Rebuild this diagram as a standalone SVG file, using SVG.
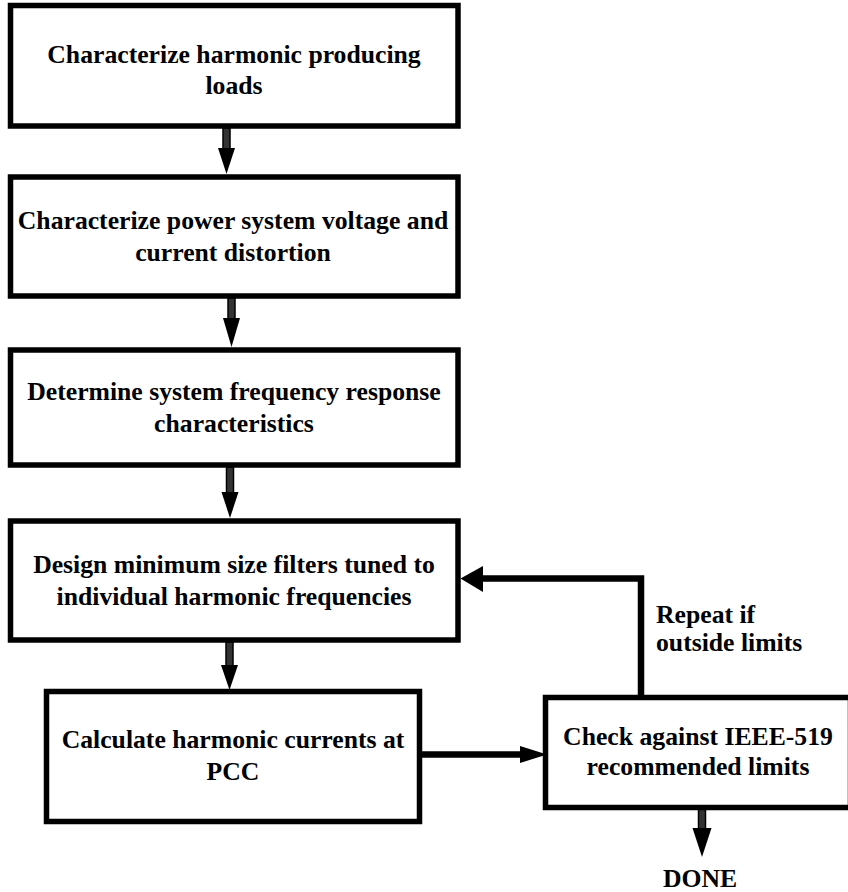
<svg xmlns="http://www.w3.org/2000/svg" width="848" height="892" viewBox="0 0 848 892">
<style>
.box{fill:#fff;stroke:#000;stroke-width:5.5}
.t{font-family:"Liberation Serif","Times New Roman",serif;font-weight:bold;font-size:25.7px;fill:#000}
.c{text-anchor:middle}
.shaft{fill:#333;stroke:#000;stroke-width:1.5}
.line{fill:none;stroke:#000;stroke-width:6.5}
.head{fill:#000}
</style>
<rect width="848" height="892" fill="#fff"/>
<g id="connectors">
  <rect class="shaft" x="223" y="128" width="7" height="22"/>
  <polygon class="head" points="218,148 235,148 226.5,174"/>
  <rect class="shaft" x="228" y="298" width="7" height="22"/>
  <polygon class="head" points="223,318 240,318 231.5,347"/>
  <rect class="shaft" x="226.5" y="467" width="7" height="27"/>
  <polygon class="head" points="221.5,492 238.5,492 230,518"/>
  <rect class="shaft" x="226" y="642" width="7" height="25"/>
  <polygon class="head" points="221,665 238,665 229.5,690"/>
  <line class="line" x1="422" y1="754.5" x2="522" y2="754.5"/>
  <polygon class="head" points="520,746 520,763 547,754.5"/>
  <polyline class="line" points="641,697 641,578.5 480,578.5"/>
  <polygon class="head" points="483,566 483,592 460.5,578.5"/>
  <rect class="shaft" x="698.5" y="809" width="7" height="21"/>
  <polygon class="head" points="692.5,828 711.5,828 702,857"/>
</g>
<g id="n1">
  <rect class="box" x="10.5" y="5.5" width="447.5" height="120.5"/>
  <text class="t c" x="234" y="63">Characterize harmonic producing</text>
  <text class="t c" x="234" y="94">loads</text>
</g>
<g id="n2">
  <rect class="box" x="10.5" y="177" width="447.5" height="119"/>
  <text class="t c" x="233" y="229">Characterize power system voltage and</text>
  <text class="t c" x="233" y="261">current distortion</text>
</g>
<g id="n3">
  <rect class="box" x="10.5" y="350" width="447.5" height="115"/>
  <text class="t c" x="234" y="400">Determine system frequency response</text>
  <text class="t c" x="234" y="432">characteristics</text>
</g>
<g id="n4">
  <rect class="box" x="10.5" y="521" width="447.5" height="119"/>
  <text class="t c" x="234" y="573">Design minimum size filters tuned to</text>
  <text class="t c" x="234" y="605">individual harmonic frequencies</text>
</g>
<g id="n5">
  <rect class="box" x="46.5" y="691.5" width="373" height="130"/>
  <text class="t c" x="233" y="748">Calculate harmonic currents at</text>
  <text class="t c" x="233" y="780">PCC</text>
</g>
<g id="n6">
  <rect class="box" x="545.5" y="697.5" width="305" height="110"/>
  <text class="t c" x="698" y="745">Check against IEEE-519</text>
  <text class="t c" x="698" y="775">recommended limits</text>
</g>
<g id="label-repeat">
  <text class="t" x="656" y="623">Repeat if</text>
  <text class="t" x="656" y="651">outside limits</text>
</g>
<g id="done">
  <text class="t c" x="700" y="887">DONE</text>
</g>
</svg>
